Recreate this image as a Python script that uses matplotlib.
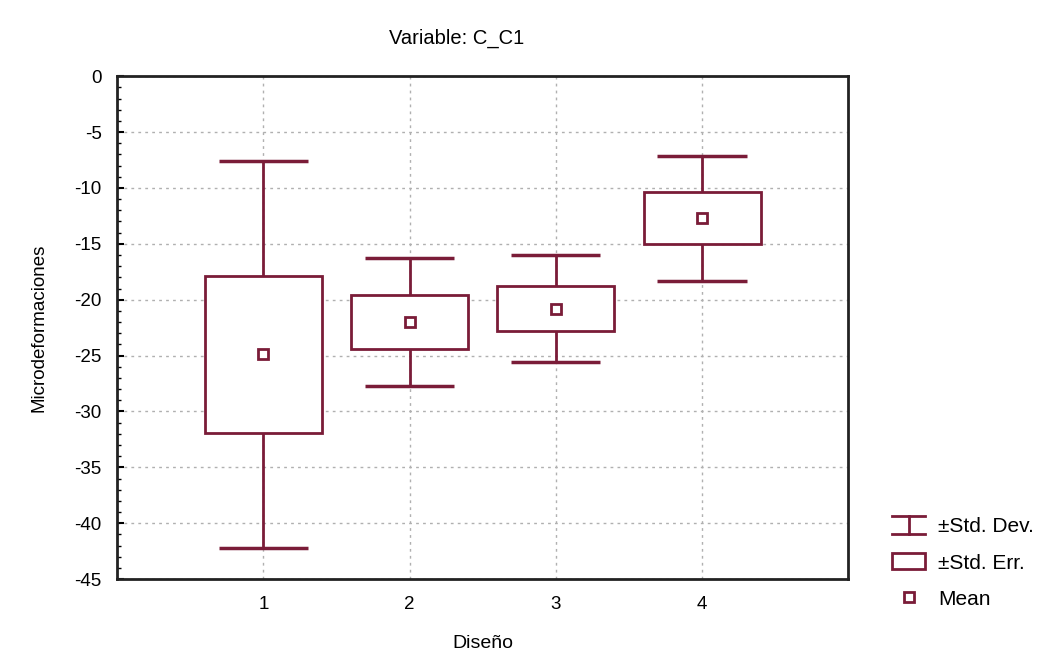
import numpy as np
import matplotlib.pyplot as plt
from matplotlib.lines import Line2D
from matplotlib.patches import Rectangle
from matplotlib.legend_handler import HandlerBase
from matplotlib.ticker import MultipleLocator

plt.rcParams['font.family'] = ['Liberation Sans', 'DejaVu Sans']
plt.rcParams['axes.unicode_minus'] = False

disenos = ['1', '2', '3', '4']
means = [-24.9, -22.0, -20.8, -12.7]
std_err = [7.0, 2.4, 2.0, 2.3]
std_dev = [17.35, 5.7, 4.8, 5.6]

col = '#7a1c38'
x = np.arange(1, len(disenos) + 1)
m = np.array(means)
se = np.array(std_err)
sd = np.array(std_dev)


class HandlerIBeam(HandlerBase):
    def create_artists(self, legend, orig_handle, xd, yd, w, h, fontsize, trans):
        cx = w / 2 - xd
        y0, y1 = -yd - 1, h - yd + 1
        arts = [Line2D([0 - xd, w - xd], [y0, y0]),
                Line2D([0 - xd, w - xd], [y1, y1]),
                Line2D([cx, cx], [y0, y1])]
        for a in arts:
            a.set_color(col)
            a.set_linewidth(2)
            a.set_transform(trans)
        return arts


fig = plt.figure(figsize=(10.46, 6.68), dpi=100)
ax = fig.add_axes([0.112, 0.133, 0.699, 0.753])

ax.bar(x, 2 * se, bottom=m - se, width=0.8, facecolor='white', edgecolor=col,
       linewidth=2, zorder=3)
ax.vlines(x, m + se, m + sd, color=col, linewidth=2, zorder=3)
ax.vlines(x, m - sd, m - se, color=col, linewidth=2, zorder=3)
ax.hlines(m + sd, x - 0.305, x + 0.305, color=col, linewidth=2.5, zorder=3)
ax.hlines(m - sd, x - 0.305, x + 0.305, color=col, linewidth=2.5, zorder=3)
ax.plot(x, m, linestyle='none', marker='s', markersize=7, markerfacecolor='white',
        markeredgecolor=col, markeredgewidth=2, zorder=4)

ax.set_xlim(0, 5)
ax.set_ylim(-45, 0)
ax.set_xticks(x)
ax.set_xticklabels(disenos)
ax.yaxis.set_major_locator(MultipleLocator(5))
ax.yaxis.set_minor_locator(MultipleLocator(1))
ax.tick_params(axis='y', which='major', direction='in', length=5, width=1.5,
               labelsize=13.5, pad=11)
ax.tick_params(axis='y', which='minor', direction='in', length=3, width=1)
ax.tick_params(axis='x', length=0, labelsize=13.5, pad=12)
ax.grid(True, linestyle=(0, (2, 3)), color='#b0b0b0', linewidth=1, zorder=0)
ax.set_axisbelow(True)
for s in ax.spines.values():
    s.set_linewidth(2)
    s.set_color('#222222')

ax.set_xlabel('Diseño', fontsize=14, labelpad=16)
ax.set_ylabel('Microdeformaciones', fontsize=13.5)
ax.yaxis.set_label_coords(-0.095, 0.5)
fig.text(0.437, 0.943, 'Variable: C_C1', fontsize=14.5, ha='center', va='center')

h_sd = Line2D([], [], color=col)
h_se = Rectangle((0, 0), 1, 1, facecolor='white', edgecolor=col, linewidth=2)
h_mean = Line2D([], [], linestyle='none', marker='s', markersize=7,
                markerfacecolor='white', markeredgecolor=col, markeredgewidth=2)
fig.legend([h_sd, h_se, h_mean], ['±Std. Dev.', '±Std. Err.', 'Mean'],
           handler_map={h_sd: HandlerIBeam()},
           loc='upper left', bbox_to_anchor=(0.835, 0.254), frameon=False,
           fontsize=15, handlelength=1.6, handleheight=0.8, labelspacing=0.82,
           handletextpad=0.6)

fig.savefig('out.png', dpi=100)
